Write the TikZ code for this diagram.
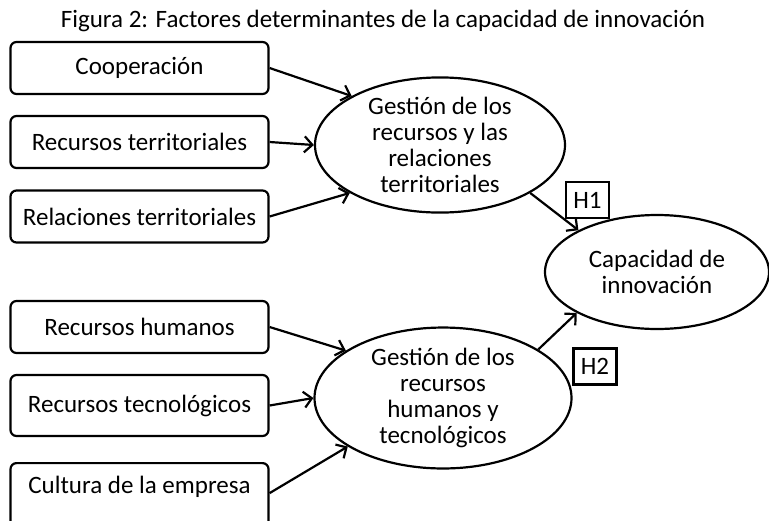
\documentclass[tikz,border=0pt]{standalone}
\usepackage{fontspec}
\setmainfont{Carlito}
\usetikzlibrary{arrows.meta,shapes.geometric}
\tikzset{>={Straight Barb[length=4pt,width=8pt]}}
\tikzset{
    factor/.style={draw,rounded corners=3pt,minimum width=129pt,minimum height=26pt,inner sep=3pt},
    constructo/.style={draw,ellipse,inner sep=0pt,align=center,font=\fontsize{12.5}{13}\selectfont},
    hipotesis/.style={draw,minimum width=21.5pt,minimum height=18pt,inner sep=0pt}
}

\begin{document}
\begin{tikzpicture}[x=0.5pt,y=-0.5pt,line width=1.1pt,font=\fontsize{12.5}{14}\selectfont]
    \useasboundingbox (0,0) rectangle (769,520);
    \clip (0,0) rectangle (769,520);

    \node (titulo) at (383,21) {Figura 2: Factores determinantes de la capacidad de innovación};

    \node[factor] (coop) at (139.5,68) {Cooperación};
    \node[factor] (rterr) at (139.5,142) {Recursos territoriales};
    \node[factor] (relterr) at (139.5,216.5) {Relaciones territoriales};
    \node[factor] (rhum) at (139.5,327) {Recursos humanos};
    \node[factor,minimum height=30.5pt] (rtec) at (139.5,405.5) {Recursos tecnológicos};
    \node[factor,anchor=north,text height=12pt,text depth=20pt] (cult) at (139.5,462) {Cultura de la empresa};

    \node[constructo,minimum width=125pt,minimum height=67pt] (gterr) at (440,145)
        {Gestión de los\\recursos y las\\relaciones\\territoriales};
    \node[constructo,minimum width=128.5pt,minimum height=65pt] (ghum) at (443,398)
        {Gestión de los\\recursos\\humanos y\\tecnológicos};
    \node[constructo,minimum width=112pt,minimum height=57pt] (cap) at (657,272)
        {Capacidad de\\innovación};

    \node[hipotesis] (h1) at (587.5,200) {H1};
    \node[hipotesis] (h2) at (595,366.5) {H2};

    \draw[->](coop.east)--(gterr.151);
    \draw[->](rterr.east)--(gterr.180);
    \draw[->](relterr.east)--(gterr.208);
    \draw[->](rhum.east)--(ghum.154);
    \draw[->](rtec.east)--(ghum.180);
    \draw[->](cult.base east)--(ghum.207);
    \draw[->](gterr.332)--(cap.152);
    \draw[->](ghum.27)--(cap.207);
\end{tikzpicture}
\end{document}
